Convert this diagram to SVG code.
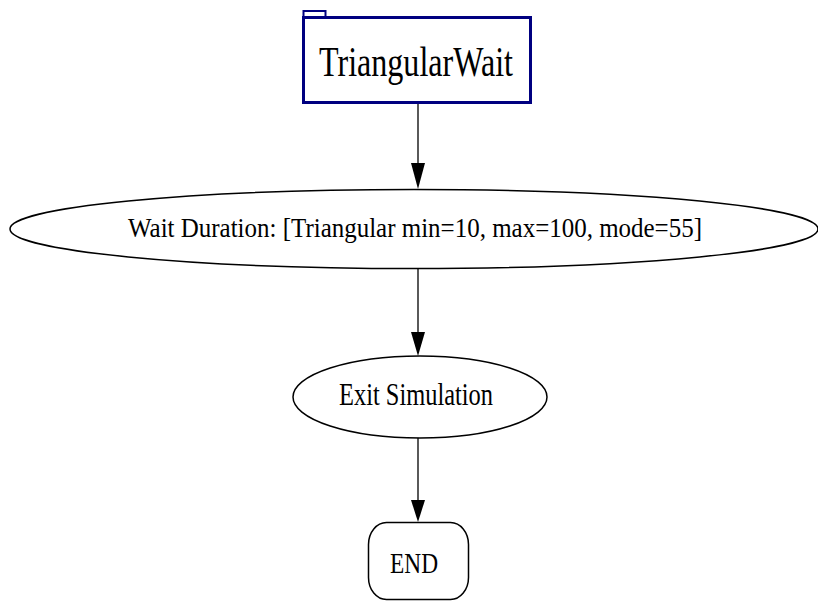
<svg xmlns="http://www.w3.org/2000/svg" width="818" height="601" viewBox="0 0 818 601">
<style>
.node{fill:#fff;stroke:#000;stroke-width:1.5}
.lbl{font-family:"Liberation Serif","Times New Roman",serif;fill:#000;text-anchor:middle}
.edge{stroke:#000;stroke-width:1.3;fill:none}
</style>
<defs>
<marker id="ah" markerWidth="14" markerHeight="25" refX="7" refY="25" orient="auto-start-reverse" markerUnits="userSpaceOnUse" viewBox="0 0 14 25">
<path d="M0,0 L14,0 L7,25 Z" fill="#000" transform="rotate(0)"/>
</marker>
</defs>
<rect width="818" height="601" fill="#fff"/>
<g id="connectors">
<line class="edge" x1="418" y1="104" x2="418" y2="163"/>
<path d="M411,163 L425,163 L418,189 Z" fill="#000"/>
<line class="edge" x1="418" y1="268" x2="418" y2="332"/>
<path d="M411,332 L425,332 L418,356 Z" fill="#000"/>
<line class="edge" x1="418" y1="438" x2="418" y2="500"/>
<path d="M411,500 L425,500 L418,522 Z" fill="#000"/>
</g>
<g id="TriangularWait">
<rect x="303.5" y="11" width="22" height="6" fill="#fff" stroke="#000080" stroke-width="2"/>
<rect x="303.5" y="17.5" width="227" height="85" fill="#fff" stroke="#000080" stroke-width="3"/>
<text class="lbl" x="416" y="76" font-size="42" textLength="194" lengthAdjust="spacingAndGlyphs">TriangularWait</text>
</g>
<g id="WaitDuration">
<ellipse class="node" cx="414" cy="229" rx="404" ry="39.5"/>
<text class="lbl" x="415" y="237" font-size="28" textLength="574" lengthAdjust="spacingAndGlyphs">Wait Duration: [Triangular min=10, max=100, mode=55]</text>
</g>
<g id="ExitSimulation">
<ellipse class="node" cx="420" cy="397" rx="127" ry="41"/>
<text class="lbl" x="416" y="405" font-size="31" textLength="154" lengthAdjust="spacingAndGlyphs">Exit Simulation</text>
</g>
<g id="END">
<rect class="node" x="368.5" y="522.5" width="100" height="77" rx="18" ry="22"/>
<text class="lbl" x="414" y="573" font-size="29" textLength="48" lengthAdjust="spacingAndGlyphs">END</text>
</g>
</svg>
